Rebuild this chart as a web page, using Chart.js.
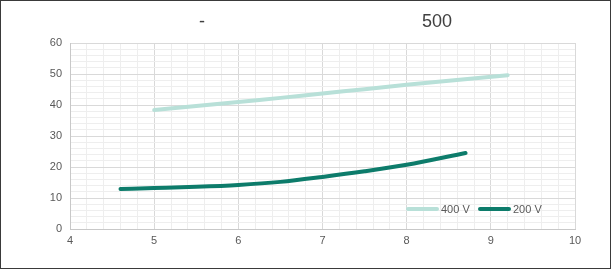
<!DOCTYPE html>
<html>
<head>
<meta charset="utf-8">
<script src="https://cdn.jsdelivr.net/npm/chart.js@4.4.0/dist/chart.umd.min.js"></script>
<style>
  html, body { margin: 0; padding: 0; background: #fff; }
  .wrap { width: 611px; height: 269px; box-sizing: border-box; border: 1px solid #3a3a3a; position: relative; }
  canvas { display: block; }
</style>
</head>
<body>
<div class="wrap"><canvas id="myChart" width="609" height="267"></canvas></div>
<script>
// chart values
const titleParts = ['-', '500'];
const x400 = [5, 5.5, 6, 6.5, 7, 7.5, 8, 8.5, 9.2];
const y400 = [38.4, 39.7, 41.0, 42.3, 43.7, 45.1, 46.5, 47.8, 49.6];
const x200 = [4.6, 5, 5.5, 6, 6.5, 7, 7.5, 8, 8.7];
const y200 = [12.9, 13.2, 13.6, 14.2, 15.2, 16.8, 18.6, 20.7, 24.5];
const seriesNames = ['400 V', '200 V'];
const seriesColors = ['#b8e0d8', '#0d7c6b'];

function pts(xs, ys) {
  return xs.map(function (x, i) { return { x: x, y: ys[i] }; });
}

function isWhole(v, step) {
  return Math.abs(v / step - Math.round(v / step)) < 1e-6;
}

// title drawn as two pieces, like the original
const titlePlugin = {
  id: 'splitTitle',
  afterDraw: function (chart) {
    const ctx = chart.ctx;
    ctx.save();
    ctx.fillStyle = '#404040';
    ctx.font = '18px "Liberation Sans", Arial, sans-serif';
    ctx.textAlign = 'center';
    ctx.textBaseline = 'middle';
    ctx.fillText(titleParts[0], 201, 21);
    ctx.fillText(titleParts[1], 436, 21);
    ctx.restore();
  }
};

// legend inside the plot, bottom right
const innerLegend = {
  id: 'innerLegend',
  afterDatasetsDraw: function (chart) {
    const ctx = chart.ctx;
    const y = 208;
    let x = 407;
    ctx.save();
    ctx.font = '11px "Liberation Sans", Arial, sans-serif';
    ctx.textBaseline = 'middle';
    chart.data.datasets.forEach(function (ds) {
      ctx.strokeStyle = ds.borderColor;
      ctx.lineWidth = 4;
      ctx.lineCap = 'round';
      ctx.beginPath();
      ctx.moveTo(x, y);
      ctx.lineTo(x + 29, y);
      ctx.stroke();
      ctx.fillStyle = '#595959';
      ctx.fillText(ds.label, x + 33, y + 1);
      x += 72;
    });
    ctx.restore();
  }
};

const data = {
  datasets: [{
    label: seriesNames[0],
    data: pts(x400, y400),
    borderColor: seriesColors[0],
    borderWidth: 4,
    pointRadius: 0,
    tension: 0.4,
    borderCapStyle: 'round'
  }, {
    label: seriesNames[1],
    data: pts(x200, y200),
    borderColor: seriesColors[1],
    borderWidth: 4,
    pointRadius: 0,
    cubicInterpolationMode: 'monotone',
    borderCapStyle: 'round'
  }]
};

const config = {
  type: 'line',
  data: data,
  options: {
    responsive: false,
    animation: false,
    layout: { padding: { top: 42, right: 35, left: 0, bottom: 0 } },
    plugins: {
      legend: { display: false },
      title: { display: false },
      tooltip: { enabled: false }
    },
    scales: {
      x: {
        type: 'linear',
        min: 4,
        max: 10,
        afterFit: function (s) { s.height = 39; },
        ticks: {
          stepSize: 0.2,
          autoSkip: false,
          maxRotation: 0,
          padding: 5,
          color: '#595959',
          font: { size: 11, family: '"Liberation Sans", Arial, sans-serif' },
          callback: function (v) { return isWhole(v, 1) ? Math.round(v) : ''; }
        },
        grid: {
          drawTicks: false,
          color: function (c) { return isWhole(c.tick.value, 1) ? '#d9d9d9' : '#eeeeee'; }
        },
        border: { color: '#c8c8c8' }
      },
      y: {
        min: 0,
        max: 60,
        afterFit: function (s) { s.width = 69; },
        ticks: {
          stepSize: 2,
          autoSkip: false,
          padding: 8,
          color: '#595959',
          font: { size: 11, family: '"Liberation Sans", Arial, sans-serif' },
          callback: function (v) { return isWhole(v, 10) ? Math.round(v) : ''; }
        },
        grid: {
          drawTicks: false,
          color: function (c) { return isWhole(c.tick.value, 10) ? '#d9d9d9' : '#eeeeee'; }
        },
        border: { color: '#c8c8c8' }
      }
    }
  },
  plugins: [titlePlugin, innerLegend]
};

var myChart = new Chart(document.getElementById('myChart'), config);
</script>
</body>
</html>
